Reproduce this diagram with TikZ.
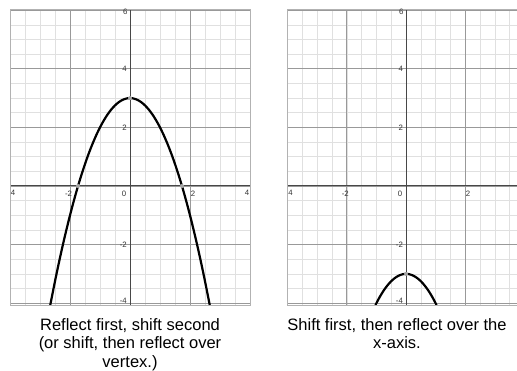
\documentclass[tikz,border=0pt]{standalone}
\usepackage{fontspec}
\setmainfont{Liberation Sans}
\begin{document}
\begin{tikzpicture}[x=1pt,y=-1pt]
\tikzset{
  minorgrid/.style={draw=black!12, line width=0.6pt},
  majorgrid/.style={draw=black!40, line width=0.7pt},
  axisline/.style={draw=black!72, line width=1pt},
  framebox/.style={draw=black!30, line width=0.8pt},
  curve/.style={line width=2.2pt, black, line cap=round},
  ticklbl/.style={font=\fontsize{7.8}{8}\selectfont, text=black!80, inner sep=0pt},
  vdot/.style={fill=black!35, circle, inner sep=0pt, minimum size=4pt},
  caption/.style={font=\fontsize{16.5}{18.6}\selectfont, align=center, inner sep=0pt, anchor=north}
}
\useasboundingbox (0,0) rectangle (517,371);
\fill[white] (0,0) rectangle (517,371);

% ---------- left graph ----------
\begin{scope}[shift={(130,186)}, x=30pt, y=29.3pt]
  \begin{scope}
    \clip (-4,-4.06) rectangle (4,6.04);
    \draw[minorgrid] (-4.5,-4.5) grid[step=0.5] (4.5,6.5);
    \draw[majorgrid] (-4.5,-4.5) grid[step=2] (4.5,6.5);
    \draw[axisline] (-4,0) -- (4,0);
    \draw[axisline] (0,-4.06) -- (0,6.04);
    \draw[curve, domain=-2.66:2.66, samples=90] plot (\x, {3-\x*\x});
  \end{scope}
  \draw[framebox] (-4,-4.06) rectangle (4,6.04);
  \node[vdot] (lv) at (0,3) {};
  \node[vdot] (lr1) at (-1.732,0) {};
  \node[vdot] (lr2) at (1.732,0) {};
  \node[ticklbl, anchor=north east] (ly6) at (-0.08,6.04) {6};
  \node[ticklbl, anchor=east] (ly4) at (-0.1,4) {4};
  \node[ticklbl, anchor=east] (ly2) at (-0.1,2) {2};
  \node[ticklbl, anchor=east] (lym2) at (-0.1,-2) {-2};
  \node[ticklbl, anchor=south east] (lym4) at (-0.1,-4.03) {-4};
  \node[ticklbl, anchor=north west] (lxm4) at (-3.98,-0.15) {4};
  \node[ticklbl, anchor=north] (lxm2) at (-2.05,-0.15) {-2};
  \node[ticklbl, anchor=north east] (lx0) at (-0.12,-0.15) {0};
  \node[ticklbl, anchor=north west] (lx2) at (2.02,-0.15) {2};
  \node[ticklbl, anchor=north east] (lx4) at (3.98,-0.15) {4};
\end{scope}

% ---------- right graph ----------
\begin{scope}[shift={(406,186)}, x=29.6pt, y=29.3pt]
  \begin{scope}
    \clip (-4,-4.06) rectangle (4,6.04);
    \draw[minorgrid] (-4.5,-4.5) grid[step=0.5] (4.5,6.5);
    \draw[majorgrid] (-4.5,-4.5) grid[step=2] (4.5,6.5);
    \draw[axisline] (-4,0) -- (4,0);
    \draw[axisline] (0,-4.06) -- (0,6.04);
    \draw[curve, domain=-1.03:1.03, samples=60] plot (\x, {-3-\x*\x});
  \end{scope}
  \draw[framebox] (4,6.04) -- (-4,6.04) -- (-4,-4.06) -- (4,-4.06);
  \node[vdot] (rv) at (0,-3) {};
  \node[ticklbl, anchor=north east] (ry6) at (-0.08,6.04) {6};
  \node[ticklbl, anchor=east] (ry4) at (-0.1,4) {4};
  \node[ticklbl, anchor=east] (ry2) at (-0.1,2) {2};
  \node[ticklbl, anchor=east] (rym2) at (-0.1,-2) {-2};
  \node[ticklbl, anchor=south east] (rym4) at (-0.1,-4.03) {-4};
  \node[ticklbl, anchor=north west] (rxm4) at (-3.98,-0.15) {4};
  \node[ticklbl, anchor=north] (rxm2) at (-2.05,-0.15) {-2};
  \node[ticklbl, anchor=north east] (rx0) at (-0.12,-0.15) {0};
  \node[ticklbl, anchor=north west] (rx2) at (2.02,-0.15) {2};
\end{scope}

% ---------- captions ----------
\node[caption] (capL) at (130,318) {Reflect first, shift second\\(or shift, then reflect over\\vertex.)};
\node[caption] (capR) at (397,318) {Shift first, then reflect over the\\x-axis.};
\end{tikzpicture}
\end{document}
